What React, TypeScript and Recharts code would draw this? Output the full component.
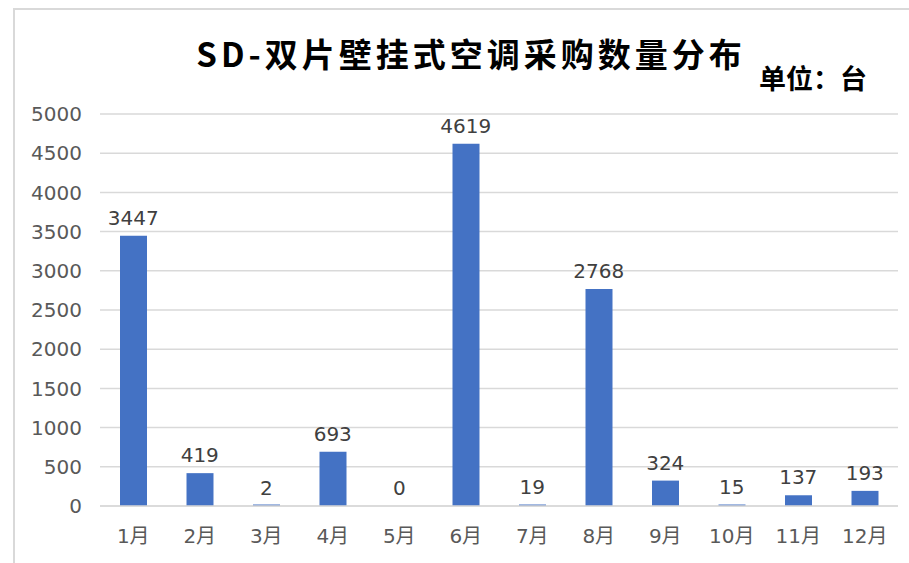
import React from "react";
import { ComposedChart, Bar, Line, XAxis, YAxis, CartesianGrid, LabelList } from "recharts";

const months = ["1月", "2月", "3月", "4月", "5月", "6月", "7月", "8月", "9月", "10月", "11月", "12月"];
const quantities = [3447, 419, 2, 693, 0, 4619, 19, 2768, 324, 15, 137, 193];
const yTicks = [0, 500, 1000, 1500, 2000, 2500, 3000, 3500, 4000, 4500, 5000];

const data = months.map((m, i) => ({ month: m, value: quantities[i] }));

const FONT = '"DejaVu Sans", "Noto Sans CJK SC", sans-serif';

export default function App() {
  return (
    <div
      style={{
        position: "absolute",
        left: 0,
        top: 0,
        width: 909,
        height: 563,
        background: "#fff",
        overflow: "hidden",
        fontFamily: FONT,
      }}
    >
      <div
        style={{
          position: "absolute",
          left: 13,
          top: 8,
          width: 920,
          height: 580,
          borderTop: "2px solid #d9d9d9",
          borderLeft: "2px solid #d9d9d9",
          boxSizing: "border-box",
        }}
      />
      <div
        style={{
          position: "absolute",
          left: 0,
          width: 942,
          top: 33,
          textAlign: "center",
          fontFamily: '"Noto Sans CJK SC", sans-serif',
          fontWeight: 700,
          fontSize: 33,
          letterSpacing: 4,
          lineHeight: "40px",
          color: "#000",
          whiteSpace: "nowrap",
        }}
      >
        SD-双片壁挂式空调采购数量分布
      </div>
      <div
        style={{
          position: "absolute",
          left: 759,
          top: 61,
          fontFamily: '"Noto Sans CJK SC", sans-serif',
          fontWeight: 700,
          fontSize: 27,
          lineHeight: "34px",
          color: "#000",
          whiteSpace: "nowrap",
        }}
      >
        单位：台
      </div>
      <ComposedChart
        width={909}
        height={563}
        data={data}
        margin={{ top: 114, right: 11, bottom: 27, left: 0 }}
        style={{ position: "absolute", left: 0, top: 0 }}
      >
        <CartesianGrid vertical={false} stroke="#d9d9d9" strokeWidth={1.5} />
        <XAxis
          dataKey="month"
          height={30}
          axisLine={{ stroke: "#d9d9d9", strokeWidth: 1.5 }}
          tickLine={false}
          tickSize={6}
          tickMargin={17}
          tick={{ fill: "#595959", fontSize: 20, fontFamily: FONT }}
          interval={0}
        />
        <YAxis
          width={100}
          domain={[0, 5000]}
          ticks={yTicks}
          axisLine={false}
          tickLine={false}
          tickSize={6}
          tickMargin={12}
          tick={{ fill: "#595959", fontSize: 20, fontFamily: FONT }}
          interval={0}
        />
        <Bar
          dataKey="value"
          fill="#4472C4"
          barSize={27}
          minPointSize={(v: number) => (v > 0 ? 1.5 : 0)}
          isAnimationActive={false}
        />
        <Line
          dataKey="value"
          stroke="none"
          dot={false}
          activeDot={false}
          isAnimationActive={false}
        >
          <LabelList
            dataKey="value"
            position="top"
            offset={11}
            fill="#404040"
            fontSize={20}
            fontFamily={FONT}
          />
        </Line>
      </ComposedChart>
    </div>
  );
}
